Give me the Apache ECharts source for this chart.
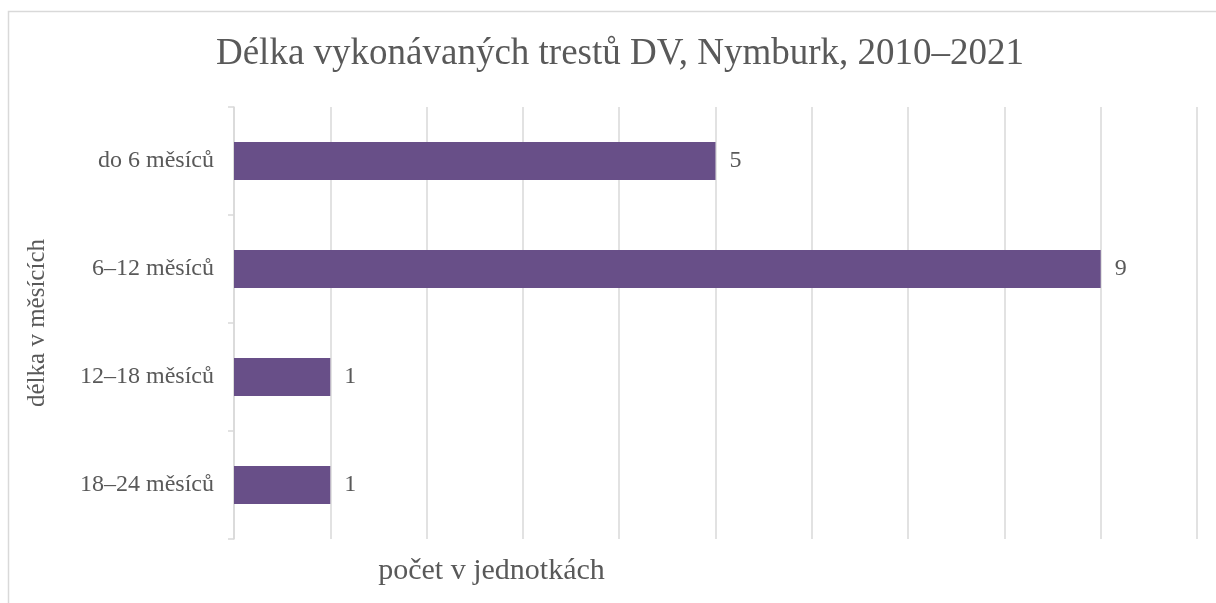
<!DOCTYPE html>
<html>
<head>
<meta charset="utf-8">
<script src="https://cdn.jsdelivr.net/npm/echarts@6/dist/echarts.min.js"></script>
<style>
  html, body { margin: 0; padding: 0; background: #fff; }
  #chart { width: 1216px; height: 603px; }
</style>
</head>
<body>
<div id="chart"></div>
<script>
// Data
var categories = ["do 6 měsíců", "6–12 měsíců", "12–18 měsíců", "18–24 měsíců"];
var counts = [5, 9, 1, 1];
var xMin = 0, xMax = 10, xStep = 1;

var textColor = "#595959";
var gridColor = "#d9d9d9";
var serif = "'Liberation Serif', 'DejaVu Serif', serif";

var chart = echarts.init(document.getElementById("chart"));

chart.setOption({
  backgroundColor: "#fff",
  animation: false,
  title: {
    text: "Délka vykonávaných trestů DV, Nymburk, 2010–2021",
    left: 615,
    textAlign: "center",
    top: 31,
    textStyle: { fontFamily: serif, fontSize: 37, fontWeight: "normal", color: textColor }
  },
  // outer frame of the chart
  graphic: [{
    type: "rect",
    shape: { x: 8.5, y: 11.5, width: 1220, height: 620 },
    style: { fill: null, stroke: gridColor, lineWidth: 1.5 },
    silent: true
  }],
  grid: { left: 234, right: 19, top: 107, bottom: 64 },
  xAxis: {
    type: "value",
    min: xMin,
    max: xMax,
    interval: xStep,
    axisLabel: { show: false },
    axisLine: { show: false },
    axisTick: { show: false },
    splitLine: { lineStyle: { color: gridColor, width: 1.5 } },
    name: "počet v jednotkách",
    nameLocation: "middle",
    nameGap: 17,
    nameTextStyle: { fontFamily: serif, fontSize: 30, color: textColor, padding: [0, 448, 0, 0] }
  },
  yAxis: {
    type: "category",
    data: categories,
    inverse: true,
    axisLine: { lineStyle: { color: gridColor, width: 1.5 } },
    axisTick: { show: true, length: 6, lineStyle: { color: gridColor, width: 1.5 } },
    axisLabel: { margin: 20, fontFamily: serif, fontSize: 24, color: textColor },
    name: "délka v měsících",
    nameLocation: "middle",
    nameRotate: 90,
    nameGap: 184,
    nameTextStyle: { fontFamily: serif, fontSize: 25, color: textColor }
  },
  series: [{
    type: "bar",
    data: counts,
    barWidth: 38,
    itemStyle: { color: "#684f88" },
    label: {
      show: true,
      position: "right",
      distance: 14,
      fontFamily: serif,
      fontSize: 24,
      color: textColor
    }
  }]
});
</script>
</body>
</html>
